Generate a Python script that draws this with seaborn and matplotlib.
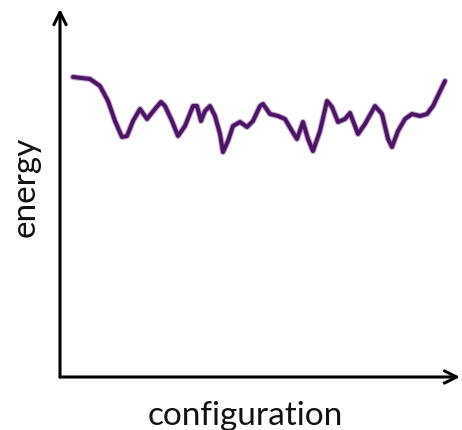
"""
Energy landscape sketch: energy vs configuration
"""

import matplotlib
matplotlib.use('Agg')
import matplotlib.pyplot as plt
import seaborn as sns
import pandas as pd

# curve (configuration, energy), arbitrary units
configuration = [13, 30, 40, 48, 55, 62, 67, 73, 80, 87, 95, 101, 105, 112, 118, 125,
                 133, 137, 141, 145, 150, 155, 160, 163, 168, 173, 180, 187, 193, 200,
                 203, 210, 218, 225, 232, 237, 243, 248, 253, 260, 267, 272, 278, 285,
                 290, 298, 305, 315, 322, 328, 332, 338, 345, 352, 360, 367, 373, 385]
energy = [300, 298, 291, 276, 256, 240, 241, 256, 268, 258, 268, 275, 271, 256, 241,
          251, 271, 271, 256, 266, 271, 261, 243, 225, 236, 251, 255, 250, 256, 271,
          273, 263, 261, 258, 246, 238, 255, 238, 226, 246, 276, 270, 255, 258,
          264, 243, 253, 271, 263, 238, 230, 246, 258, 263, 261, 263, 271, 296]

df = pd.DataFrame({'configuration': configuration, 'energy': energy})

sns.set_style('white')
plt.rcParams['font.family'] = ['Lato', 'DejaVu Sans']

fig = plt.figure(figsize=(4.62, 4.31), dpi=100)
ax = fig.add_axes([60 / 462, 53 / 431, 400 / 462, 368 / 431])

# soft halo under the stroke, then the dark purple line
sns.lineplot(data=df, x='configuration', y='energy', ax=ax, color='#c9a6d8',
             linewidth=4.4, solid_joinstyle='round', solid_capstyle='round')
sns.lineplot(data=df, x='configuration', y='energy', ax=ax, color='#4a1660',
             linewidth=2.9, solid_joinstyle='round', solid_capstyle='round')

ax.set_xlim(0, 400)
ax.set_ylim(0, 368)
ax.set_xticks([])
ax.set_yticks([])
ax.set_xlabel('')
ax.set_ylabel('')
for s in ax.spines.values():
    s.set_visible(False)

# axes drawn as arrows
arrow = dict(arrowstyle='->', color='black', lw=2.2, mutation_scale=22,
             shrinkA=0, shrinkB=0, capstyle='round')
ax.annotate('', xy=(0, 1.0), xytext=(0, 0), xycoords='axes fraction',
            arrowprops=arrow, annotation_clip=False)
ax.annotate('', xy=(1.0, 0), xytext=(0, 0), xycoords='axes fraction',
            arrowprops=arrow, annotation_clip=False)

# axis titles
fig.text(245 / 462, 6 / 431, 'configuration', fontsize=24, ha='center',
         va='baseline', color='#111111')
fig.text(26 / 462, 1 - 187 / 431, 'energy', fontsize=24, rotation=90,
         ha='center', va='center', color='#111111')

plt.savefig('out.png', dpi=100)
plt.close()
